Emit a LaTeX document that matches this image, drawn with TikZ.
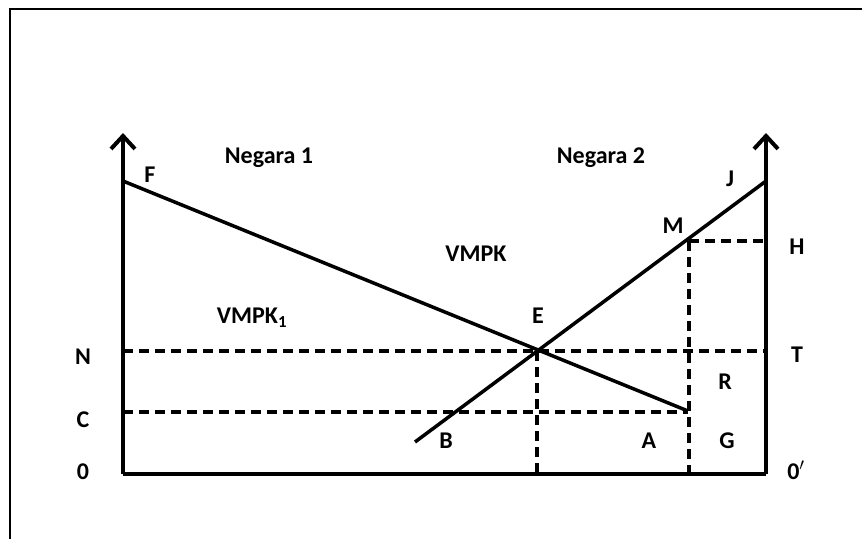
\documentclass[tikz,border=0pt]{standalone}
\usepackage{fontspec}
\setmainfont{Carlito}
\usetikzlibrary{arrows.meta}
\begin{document}
\begin{tikzpicture}[x=1pt,y=-1pt,
  lbl/.style={font=\fontsize{24}{24}\selectfont\bfseries, inner sep=0pt},
  axis/.style={line width=4pt},
  axarrow/.style={axis, -{Straight Barb[length=13pt,width=24pt,line width=4pt]}},
  curve/.style={line width=3.5pt},
  guide/.style={line width=3.3pt, dash pattern=on 10pt off 6pt},
  ]
\useasboundingbox (0,0) rectangle (862,539);
% frame (only top and left visible)
\draw[line width=2pt] (9.5,539) -- (9.5,9) -- (862,9);
% points
\coordinate (O) at (123,474);
\coordinate (O2) at (766,474);
\coordinate (Ltop) at (123,133);
\coordinate (Rtop) at (766,133);
\coordinate (F) at (123,181);
\coordinate (Fend) at (688,411);
\coordinate (Bst) at (415,442);
\coordinate (J) at (766,181);
\coordinate (E) at (537,351);
\coordinate (Nl) at (123,351);
\coordinate (Tr) at (766,351);
\coordinate (Cl) at (123,412);
\coordinate (Cr) at (688,412);
\coordinate (Ebase) at (537,474);
\coordinate (Mp) at (689,241);
\coordinate (Mbase) at (689,474);
\coordinate (Hr) at (766,241);
% guides
\draw[guide] (Nl) -- (Tr);
\draw[guide] (Cl) -- (Cr);
\draw[guide] (E) -- (Ebase);
\draw[guide] (Mp) -- (Mbase);
\draw[guide] (Mp) -- (Hr);
% axes
\draw[axis] (O) -- (O2);
\draw[axarrow] (O) -- (Ltop);
\draw[axarrow] (O2) -- (Rtop);
% curves
\draw[curve] (F) -- (Fend);
\draw[curve] (Bst) -- (J);
% labels
\node[lbl] (lF) at (150,175) {F};
\node[lbl] (lN1) at (269,158) {Negara 1};
\node[lbl] (lN2) at (601,158) {Negara 2};
\node[lbl] (lJ) at (730,179) {J};
\node[lbl] (lM) at (673,226) {M};
\node[lbl] (lH) at (797,247) {H};
\node[lbl] (lV) at (476,254) {VMPK};
\node[lbl] (lV1) at (252,318) {VMPK\textsubscript{1}};
\node[lbl] (lE) at (538,316) {E};
\node[lbl] (lNN) at (83,357) {N};
\node[lbl] (lC) at (83,420) {C};
\node[lbl] (l0) at (83,472) {0};
\node[lbl] (lT) at (797,355) {T};
\node[lbl] (lR) at (725,382) {R};
\node[lbl] (lG) at (727,441) {G};
\node[lbl] (l02) at (796,470) {0$^{\prime}$};
\node[lbl] (lB) at (446,441) {B};
\node[lbl] (lA) at (649,441) {A};
\end{tikzpicture}
\end{document}
